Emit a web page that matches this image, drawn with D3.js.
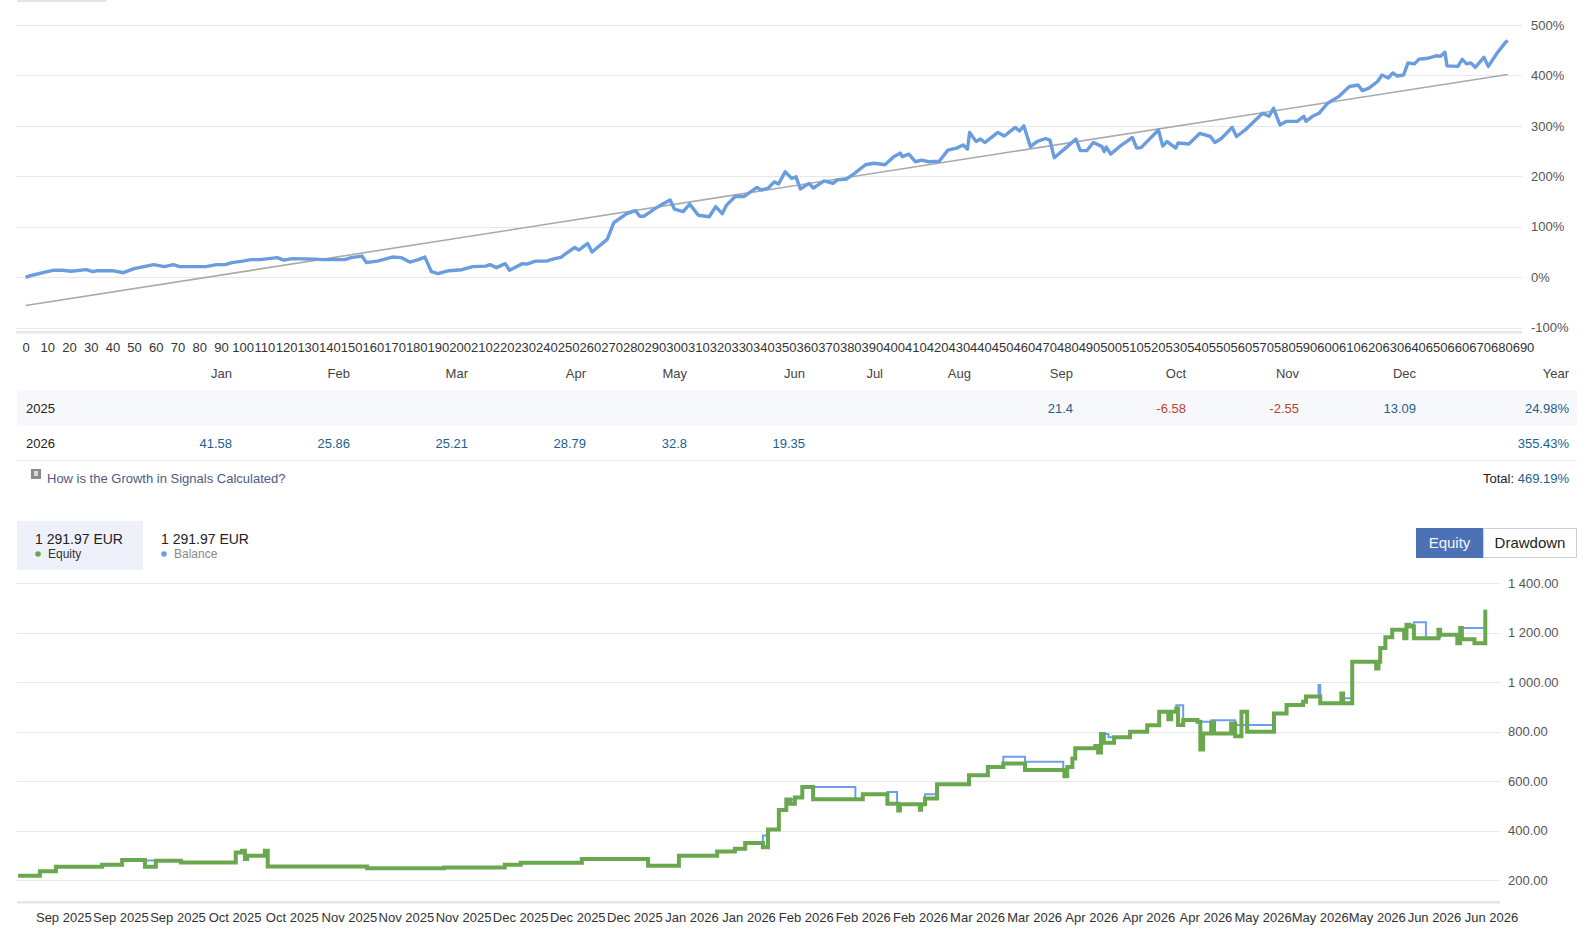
<!DOCTYPE html>
<html>
<head>
<meta charset="utf-8">
<script src="https://cdn.jsdelivr.net/npm/d3@7"></script>
<style>
  body { margin: 0; background: #fff; }
  svg { display: block; }
</style>
</head>
<body>
<svg id="chart" width="1586" height="942"></svg>
<script>
const FONT = "'Liberation Sans', Arial, sans-serif"

// growth curve: [trade number, growth %]
const growth = [
  [0, 0], [4, 5], [8, 9], [13, 14], [17, 14], [21, 12], [28, 15], [31, 11], [33, 13], [40, 13],
  [45, 9], [50, 17], [59, 25], [64, 21], [68, 25], [71, 21], [77, 21], [83, 21], [88, 25], [92, 25],
  [95, 29], [100, 32], [104, 35], [108, 35], [116, 39], [119, 34], [123, 37], [133, 36], [137, 35], [147, 35],
  [150, 39], [155, 42], [157, 29], [162, 32], [169, 40], [173, 39], [177, 30], [181, 35], [184, 40], [187, 11],
  [190, 7], [195, 13], [201, 15], [206, 21], [212, 22], [214, 25], [217, 19], [221, 27], [223, 14], [229, 27],
  [231, 26], [235, 32], [240, 32], [243, 36], [247, 40], [248, 44], [253, 59], [255, 54], [259, 67], [261, 50],
  [268, 75], [271, 108], [277, 126], [281, 132], [283, 121], [285, 121], [290, 136], [294, 146], [297, 153], [299, 135],
  [303, 130], [306, 145], [310, 123], [315, 120], [318, 140], [321, 126], [323, 143], [327, 160], [331, 160], [337, 178],
  [339, 173], [342, 176], [345, 189], [347, 185], [350, 209], [353, 196], [355, 199], [357, 175], [361, 186], [363, 177],
  [368, 191], [372, 186], [374, 193], [378, 194], [382, 206], [387, 223], [391, 226], [396, 223], [400, 239], [403, 246],
  [404, 239], [407, 244], [410, 229], [413, 232], [416, 229], [421, 230], [425, 252], [429, 256], [432, 262], [434, 254],
  [435, 287], [438, 269], [440, 274], [442, 267], [448, 287], [451, 280], [456, 297], [458, 290], [460, 300], [463, 259],
  [466, 269], [470, 275], [472, 272], [474, 237], [480, 259], [484, 274], [486, 251], [489, 251], [492, 267], [496, 259],
  [497, 249], [498, 258], [500, 244], [505, 262], [510, 277], [512, 256], [514, 257], [522, 292], [524, 260], [526, 269],
  [530, 256], [531, 266], [536, 264], [541, 285], [546, 279], [548, 267], [551, 275], [556, 297], [558, 279], [562, 292],
  [570, 325], [573, 319], [575, 335], [578, 302], [581, 309], [586, 309], [589, 319], [590, 309], [593, 319], [596, 325],
  [600, 345], [605, 358], [610, 378], [614, 381], [616, 370], [619, 375], [623, 388], [625, 401], [628, 395], [630, 405],
  [632, 399], [635, 401], [637, 425], [640, 423], [642, 432], [646, 434], [650, 439], [652, 438], [654, 446], [655, 419],
  [660, 418], [662, 432], [664, 423], [666, 425], [668, 416], [672, 436], [674, 418], [678, 444], [682, 466], [683, 469.19]
]
// regression line end points
const trend = [[0, -56], [683, 402]]
const growthTicks = d3.range(0, 691, 10)
const pctTicks = [-100, 0, 100, 200, 300, 400, 500]

// monthly growth table
const months = ['Jan', 'Feb', 'Mar', 'Apr', 'May', 'Jun', 'Jul', 'Aug', 'Sep', 'Oct', 'Nov', 'Dec']
const years = ['2025', '2026']
const monthly2025 = [null, null, null, null, null, null, null, null, 21.4, -6.58, -2.55, 13.09]
const monthly2026 = [41.58, 25.86, 25.21, 28.79, 32.8, 19.35, null, null, null, null, null, null]
const yearGrowth = ['24.98%', '355.43%']
const totalGrowth = '469.19%'

// equity / balance history: [position on the date axis, EUR]
const dateTicks = [
  'Sep 2025', 'Sep 2025', 'Sep 2025', 'Oct 2025', 'Oct 2025', 'Nov 2025', 'Nov 2025', 'Nov 2025', 'Dec 2025',
  'Dec 2025', 'Dec 2025', 'Jan 2026', 'Jan 2026', 'Feb 2026', 'Feb 2026', 'Feb 2026', 'Mar 2026', 'Mar 2026',
  'Apr 2026', 'Apr 2026', 'Apr 2026', 'May 2026', 'May 2026', 'May 2026', 'Jun 2026', 'Jun 2026'
]
const moneyTicks = [200, 400, 600, 800, 1000, 1200, 1400]
const equity = [
  [-0.79, 217], [-0.41, 235], [-0.13, 254], [0.68, 262], [1.03, 281], [1.43, 254], [1.62, 278], [2.06, 271],
  [3.02, 311], [3.13, 318], [3.18, 285], [3.22, 298], [3.53, 318], [3.58, 255], [5.32, 247], [6.67, 251],
  [7.73, 262], [8.01, 270], [9.08, 285], [10.24, 258], [10.78, 298], [11.45, 315], [11.76, 326], [11.94, 349],
  [12.25, 332], [12.34, 404], [12.53, 483], [12.66, 525], [12.73, 508], [12.81, 533], [12.94, 576], [13.13, 526],
  [14.0, 546], [14.43, 508], [14.62, 481], [14.65, 506], [15.0, 484], [15.02, 506], [15.09, 529], [15.3, 587],
  [15.86, 623], [16.19, 657], [16.46, 671], [16.84, 644], [17.53, 619], [17.58, 657], [17.67, 691], [17.72, 732],
  [18.07, 741], [18.12, 715], [18.17, 790], [18.22, 755], [18.4, 777], [18.68, 799], [18.98, 825], [19.19, 880],
  [19.35, 850], [19.4, 880], [19.49, 893], [19.52, 826], [19.61, 846], [19.86, 839], [19.91, 727], [19.96, 792],
  [20.1, 835], [20.15, 792], [20.45, 832], [20.52, 781], [20.63, 880], [20.73, 799], [21.2, 873], [21.42, 907],
  [21.71, 920], [21.76, 941], [22.01, 914], [22.38, 954], [22.41, 914], [22.57, 1082], [22.99, 1055], [23.03, 1082],
  [23.06, 1137], [23.15, 1181], [23.27, 1211], [23.48, 1177], [23.52, 1231], [23.57, 1224], [23.65, 1177], [24.08, 1211],
  [24.11, 1191], [24.41, 1157], [24.46, 1218], [24.49, 1173], [24.71, 1157], [24.9, 1292]
]
const balance = [
  [-0.79, 217], [-0.41, 235], [-0.13, 254], [0.68, 262], [1.03, 279], [2.06, 271], [3.02, 311], [3.18, 298],
  [3.58, 255], [5.32, 247], [6.67, 251], [7.73, 262], [8.01, 270], [9.08, 285], [10.24, 258], [10.78, 298],
  [11.45, 315], [11.76, 326], [11.94, 349], [12.25, 380], [12.34, 404], [12.53, 483], [12.66, 525], [12.81, 533],
  [12.94, 576], [13.87, 525], [14.0, 546], [14.43, 556], [14.6, 506], [15.09, 546], [15.3, 587], [15.86, 623],
  [16.19, 657], [16.46, 698], [16.84, 678], [17.51, 644], [17.58, 657], [17.67, 691], [17.72, 732], [18.07, 741],
  [18.17, 790], [18.3, 777], [18.68, 799], [18.98, 825], [19.19, 880], [19.49, 906], [19.61, 846], [19.86, 839],
  [20.1, 845], [20.52, 826], [21.2, 873], [21.42, 907], [21.71, 920], [21.76, 941], [21.98, 988], [22.01, 914],
  [22.38, 934], [22.57, 1082], [23.06, 1137], [23.15, 1181], [23.27, 1211], [23.52, 1231], [23.65, 1241], [23.86, 1177],
  [24.08, 1181], [24.11, 1191], [24.46, 1218], [24.9, 1292]
]
const lastEquity = 1291.97
const lastBalance = 1291.97

const locale = d3.formatLocale({ decimal: '.', thousands: ' ', grouping: [3], currency: ['', ''] })
const money = locale.format(',.2f')

const svg = d3.select('#chart').attr('font-family', FONT)

// little tab edge at the very top
svg.append('rect').attr('x', 17).attr('y', 0).attr('width', 89).attr('height', 2).attr('fill', '#e4e4e4')

/* ---------- growth chart ---------- */
const xTop = d3.scaleLinear().domain([0, 690]).range([25.6, 1523])
const yTop = d3.scaleLinear().domain([-100, 500]).range([327.7, 25])

const topG = svg.append('g')

topG.selectAll('line.grid')
  .data(pctTicks)
  .join('line')
  .attr('class', 'grid')
  .attr('x1', 16)
  .attr('x2', 1522)
  .attr('y1', (d) => Math.round(yTop(d)) + 0.5)
  .attr('y2', (d) => Math.round(yTop(d)) + 0.5)
  .attr('stroke', '#e8e8e8')

topG.append('rect')
  .attr('x', 16).attr('y', 331).attr('width', 1506).attr('height', 2.5)
  .attr('fill', '#e6e6ee')

topG.append('g')
  .attr('transform', 'translate(1531,0)')
  .call(d3.axisRight(yTop).tickValues(pctTicks).tickFormat((d) => d + '%').tickSize(0).tickPadding(0))
  .call((g) => g.select('.domain').remove())
  .attr('font-size', 13)
  .attr('font-family', FONT)
  .selectAll('text')
  .attr('fill', '#555')

topG.append('g')
  .attr('transform', 'translate(0,342.4)')
  .call(d3.axisBottom(xTop).tickValues(growthTicks).tickSize(0).tickPadding(0))
  .call((g) => g.select('.domain').remove())
  .attr('font-size', 13)
  .attr('font-family', FONT)
  .selectAll('text')
  .attr('fill', '#333')

const topLine = d3.line()
  .x((d) => xTop(d[0]))
  .y((d) => yTop(d[1]))

topG.append('path')
  .datum(trend)
  .attr('d', topLine)
  .attr('fill', 'none')
  .attr('stroke', '#a9a9a9')
  .attr('stroke-width', 1.6)

topG.append('path')
  .datum(growth)
  .attr('d', topLine)
  .attr('fill', 'none')
  .attr('stroke', '#6a9de0')
  .attr('stroke-width', 3.4)
  .attr('stroke-linejoin', 'round')

/* ---------- monthly table ---------- */
// right edge of each table column (Jan..Dec, Year)
const colRight = [232, 350, 468, 586, 687, 805, 883, 971, 1073, 1186, 1299, 1416, 1569]
const tbl = svg.append('g').attr('font-size', 13)

tbl.append('rect').attr('x', 17).attr('y', 390).attr('width', 1560).attr('height', 36).attr('fill', '#f7f8fc')
tbl.append('rect').attr('x', 17).attr('y', 460).attr('width', 1560).attr('height', 1).attr('fill', '#e9e9ee')

tbl.selectAll('text.month')
  .data(months.concat(['Year']))
  .join('text')
  .attr('class', 'month')
  .attr('x', (d, i) => colRight[i])
  .attr('y', 373)
  .attr('dy', '0.35em')
  .attr('text-anchor', 'end')
  .attr('fill', '#444')
  .text((d) => d)

const rows = [monthly2025, monthly2026]
const rowY = [408, 443]

rows.forEach((vals, r) => {
  tbl.append('text')
    .attr('x', 26)
    .attr('y', rowY[r])
    .attr('dy', '0.35em')
    .attr('fill', '#222')
    .text(years[r])

  tbl.selectAll(null)
    .data(vals.map((v, i) => ({ v, i })).filter((d) => d.v !== null))
    .join('text')
    .attr('x', (d) => colRight[d.i])
    .attr('y', rowY[r])
    .attr('dy', '0.35em')
    .attr('text-anchor', 'end')
    .attr('fill', (d) => (d.v < 0 ? '#b5432e' : '#225f8f'))
    .text((d) => String(d.v))

  tbl.append('text')
    .attr('x', colRight[12])
    .attr('y', rowY[r])
    .attr('dy', '0.35em')
    .attr('text-anchor', 'end')
    .attr('fill', '#225f8f')
    .text(yearGrowth[r])
})

tbl.append('rect').attr('x', 31).attr('y', 469).attr('width', 10).attr('height', 10).attr('fill', '#8a8a8a')
tbl.append('rect').attr('x', 34).attr('y', 471).attr('width', 4).attr('height', 5).attr('fill', '#d8d8d8')
tbl.append('text')
  .attr('x', 47).attr('y', 478).attr('dy', '0.35em')
  .attr('fill', '#4d5b86')
  .text('How is the Growth in Signals Calculated?')

const tot = tbl.append('text')
  .attr('x', colRight[12]).attr('y', 478).attr('dy', '0.35em')
  .attr('text-anchor', 'end')
tot.append('tspan').attr('fill', '#222').text('Total: ')
tot.append('tspan').attr('fill', '#225f8f').text(totalGrowth)

/* ---------- legend + buttons ---------- */
const leg = svg.append('g')
leg.append('rect').attr('x', 17).attr('y', 521).attr('width', 126).attr('height', 49).attr('fill', '#eef1f9')
leg.append('text').attr('x', 35).attr('y', 539).attr('dy', '0.35em').attr('font-size', 14).attr('fill', '#222')
  .text(money(lastEquity) + ' EUR')
leg.append('circle').attr('cx', 38).attr('cy', 554).attr('r', 2.8).attr('fill', '#6aa84f')
leg.append('text').attr('x', 48).attr('y', 554).attr('dy', '0.35em').attr('font-size', 12).attr('fill', '#333')
  .text('Equity')
leg.append('text').attr('x', 161).attr('y', 539).attr('dy', '0.35em').attr('font-size', 14).attr('fill', '#222')
  .text(money(lastBalance) + ' EUR')
leg.append('circle').attr('cx', 164).attr('cy', 554).attr('r', 2.8).attr('fill', '#6d9eeb')
leg.append('text').attr('x', 174).attr('y', 554).attr('dy', '0.35em').attr('font-size', 12).attr('fill', '#888')
  .text('Balance')

leg.append('rect').attr('x', 1416).attr('y', 528).attr('width', 67).attr('height', 30).attr('fill', '#4c72b5')
leg.append('text').attr('x', 1449.5).attr('y', 543).attr('dy', '0.35em').attr('text-anchor', 'middle')
  .attr('font-size', 15).attr('fill', '#f4f6fb').text('Equity')
leg.append('rect').attr('x', 1483.5).attr('y', 528.5).attr('width', 93).attr('height', 29)
  .attr('fill', '#fff').attr('stroke', '#cdd0d8')
leg.append('text').attr('x', 1530).attr('y', 543).attr('dy', '0.35em').attr('text-anchor', 'middle')
  .attr('font-size', 15).attr('fill', '#222').text('Drawdown')

/* ---------- equity / balance chart ---------- */
const xBot = d3.scaleLinear().domain([0, 25]).range([63.3, 1491])
const yBot = d3.scaleLinear().domain([200, 1400]).range([880, 583])

const botG = svg.append('g')

botG.selectAll('line.grid')
  .data(moneyTicks)
  .join('line')
  .attr('class', 'grid')
  .attr('x1', 17)
  .attr('x2', 1500)
  .attr('y1', (d) => Math.round(yBot(d)) + 0.5)
  .attr('y2', (d) => Math.round(yBot(d)) + 0.5)
  .attr('stroke', '#e8e8e8')

botG.append('rect')
  .attr('x', 17).attr('y', 901).attr('width', 1483).attr('height', 2.5)
  .attr('fill', '#e6e6ee')

botG.append('g')
  .attr('transform', 'translate(1508,0)')
  .call(d3.axisRight(yBot).tickValues(moneyTicks).tickFormat(money).tickSize(0).tickPadding(0))
  .call((g) => g.select('.domain').remove())
  .attr('font-size', 13)
  .attr('font-family', FONT)
  .selectAll('text')
  .attr('fill', '#555')

botG.append('g')
  .attr('transform', 'translate(0,912.4)')
  .call(d3.axisBottom(xBot).tickValues(d3.range(dateTicks.length)).tickFormat((i) => dateTicks[i]).tickSize(0).tickPadding(0))
  .call((g) => g.select('.domain').remove())
  .attr('font-size', 13)
  .attr('font-family', FONT)
  .selectAll('text')
  .attr('fill', '#333')

const stepLine = d3.line()
  .curve(d3.curveStepAfter)
  .x((d) => xBot(d[0]))
  .y((d) => yBot(d[1]))

botG.append('path')
  .datum(balance)
  .attr('d', stepLine)
  .attr('fill', 'none')
  .attr('stroke', '#6d9eeb')
  .attr('stroke-width', 2)

botG.append('path')
  .datum(equity)
  .attr('d', stepLine)
  .attr('fill', 'none')
  .attr('stroke', '#6aa84f')
  .attr('stroke-width', 4)
  .attr('stroke-linejoin', 'miter')
</script>
</body>
</html>
